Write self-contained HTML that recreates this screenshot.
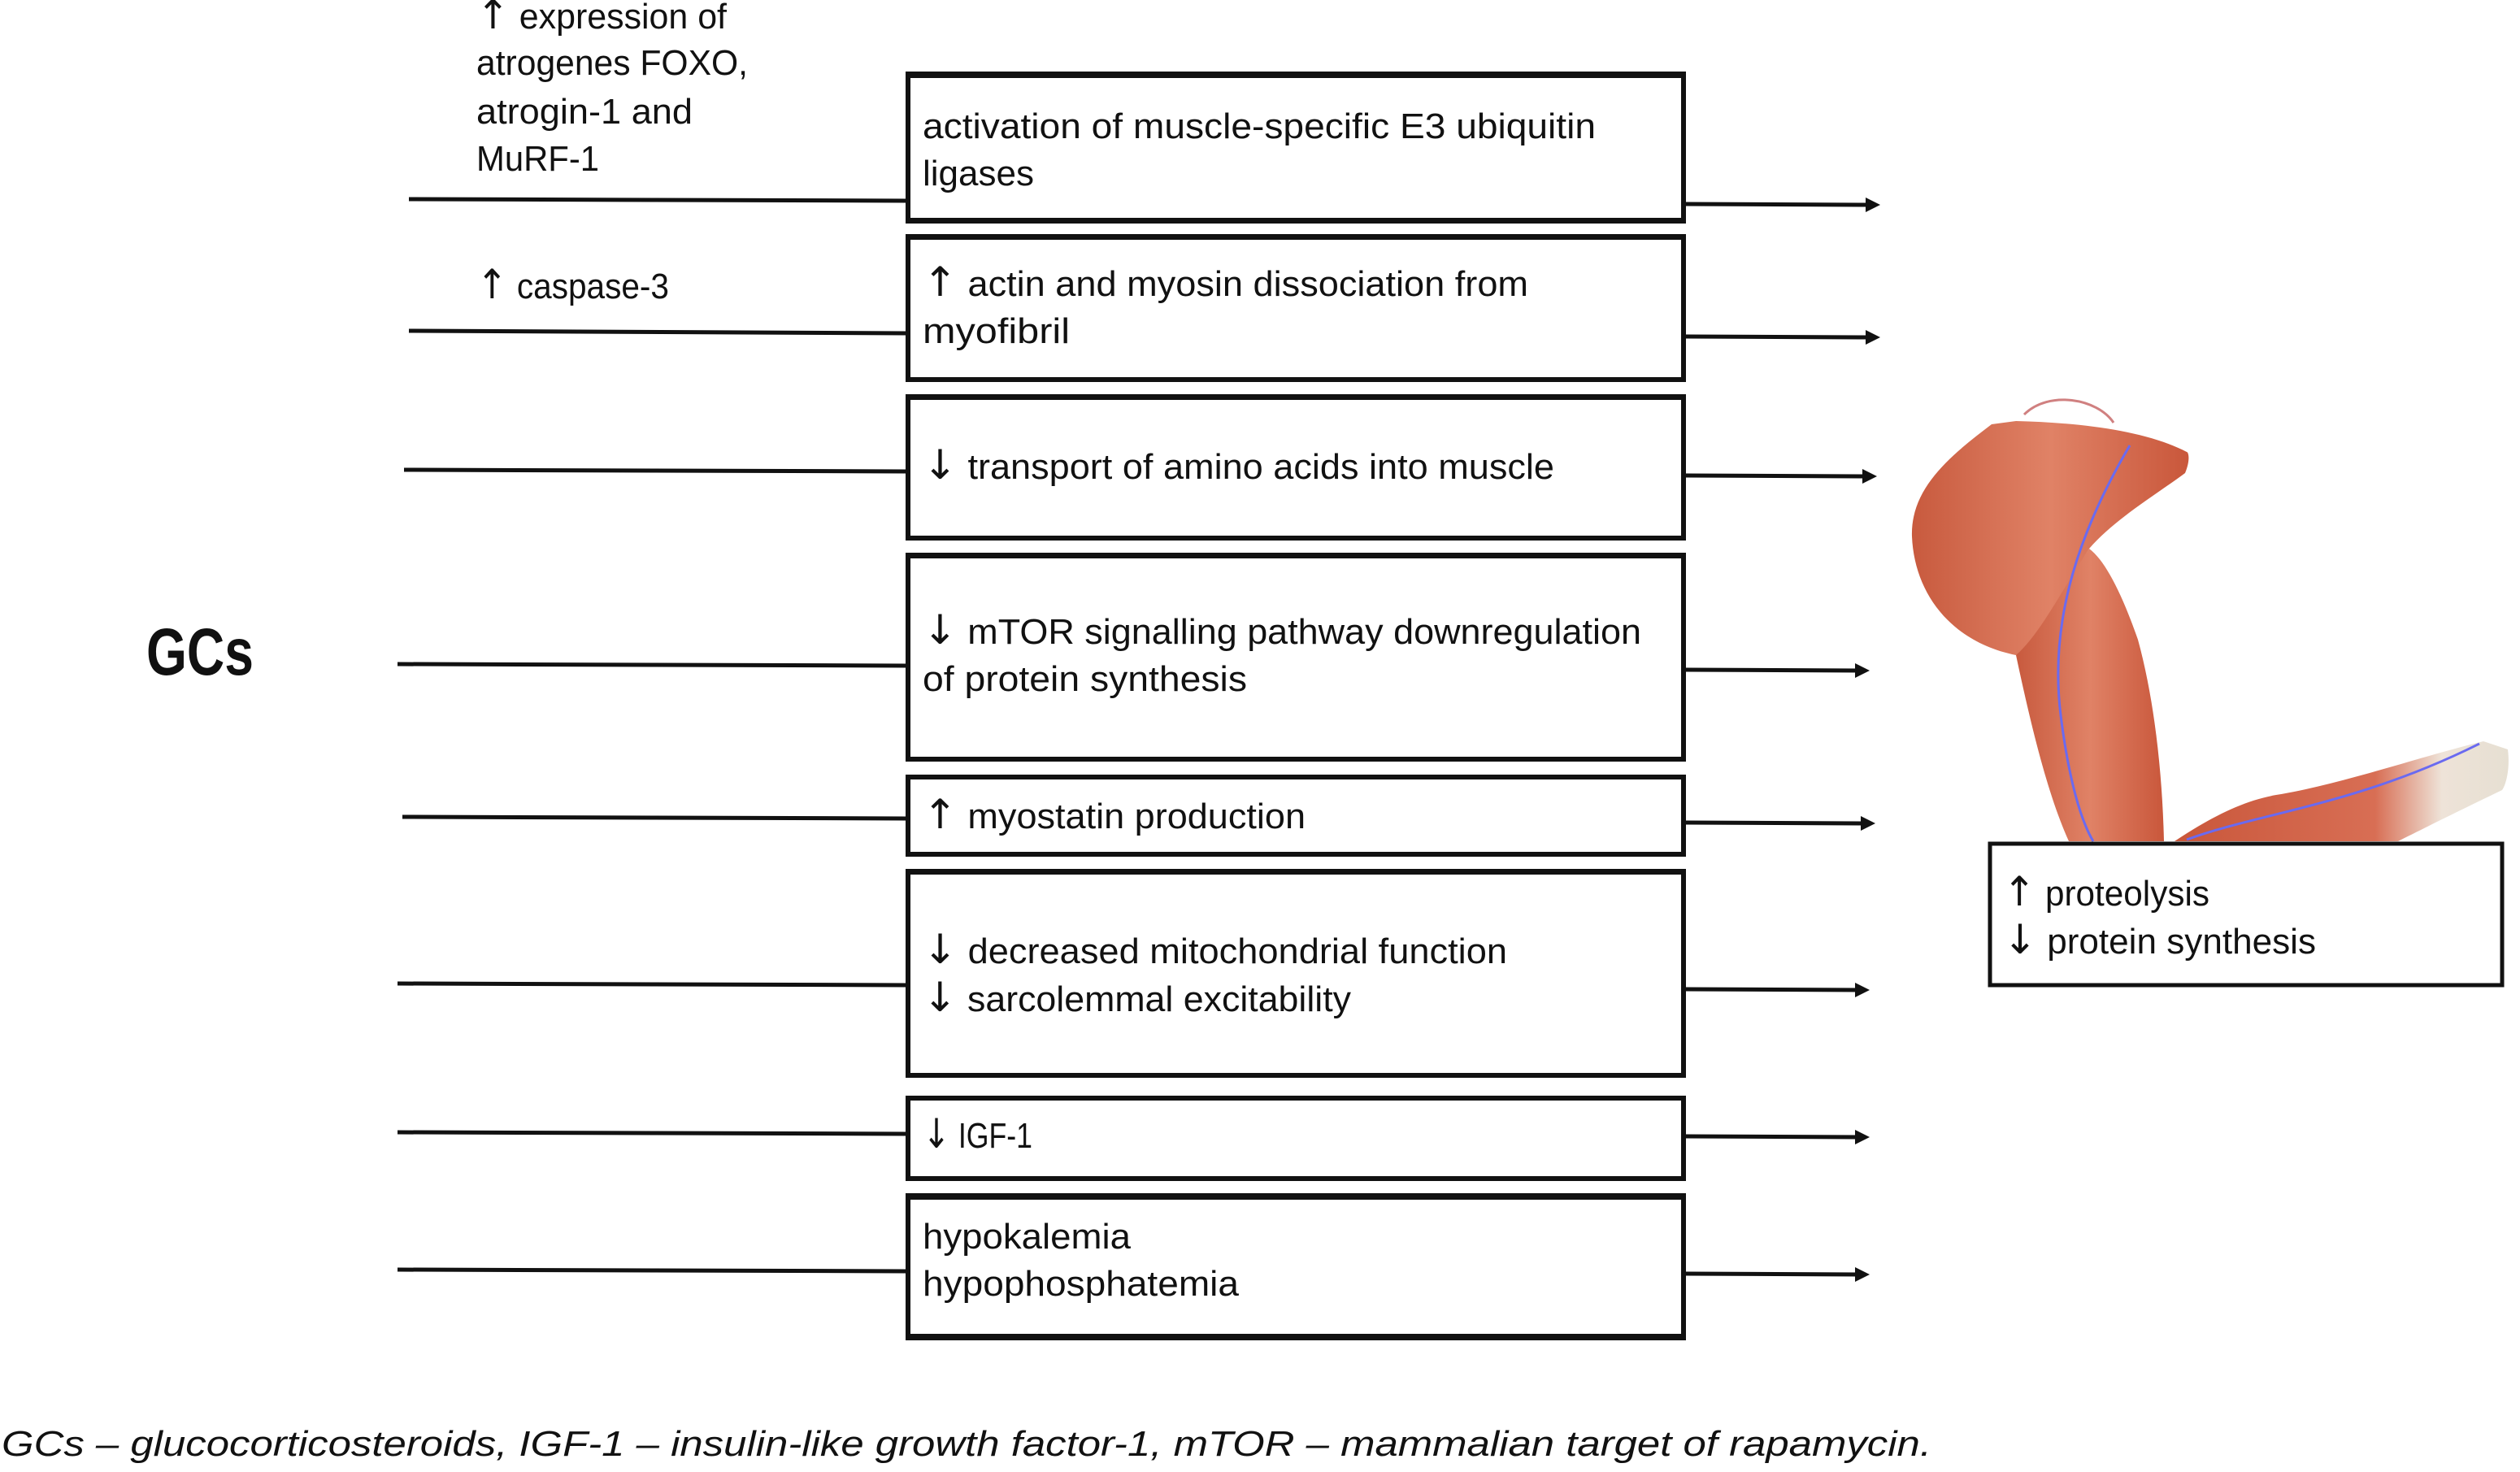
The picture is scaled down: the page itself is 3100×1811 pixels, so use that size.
<!DOCTYPE html>
<html><head><meta charset="utf-8"><style>
html,body{margin:0;padding:0;background:#fff;}
svg{display:block;}
text{font-family:"Liberation Sans",sans-serif;fill:#111;}
.ar{font-family:"DejaVu Sans",sans-serif;font-size:50px;}
</style></head><body>
<svg width="3100" height="1811" viewBox="0 0 3100 1811" xmlns="http://www.w3.org/2000/svg">
<defs>
<linearGradient id="mus" x1="0" y1="0" x2="1" y2="0">
<stop offset="0" stop-color="#c85a3e"/><stop offset="0.5" stop-color="#e08266"/><stop offset="1" stop-color="#c9573b"/>
</linearGradient>
<linearGradient id="fa" x1="0" y1="0" x2="1" y2="0">
<stop offset="0" stop-color="#c9573b"/><stop offset="0.6" stop-color="#d86e54"/><stop offset="0.8" stop-color="#eee3d8"/><stop offset="1" stop-color="#e6dfd2"/>
</linearGradient>
</defs>

<path d="M2480 806 C2500 900 2520 980 2545 1035 L2662 1035 C2660 950 2650 860 2630 787 C2610 730 2590 690 2570 675 Z" fill="url(#mus)"/>
<path d="M2450 522 C2400 560 2350 600 2352 660 C2355 730 2400 790 2480 806 C2510 780 2540 720 2570 675 C2600 640 2650 610 2688 582 C2695 565 2692 556 2690 556 C2640 530 2560 520 2480 518 Z" fill="url(#mus)"/>
<path d="M2675 1035 C2720 1005 2760 985 2800 978 C2880 965 2980 930 3055 912 L3085 922 C3088 945 3083 965 3078 972 C3020 1000 2980 1020 2950 1035 Z" fill="url(#fa)"/>
<path d="M2620 548 C2560 650 2520 760 2535 880 C2545 960 2560 1010 2575 1035" fill="none" stroke="#6a6af0" stroke-width="3"/>
<path d="M2690 1033 C2780 1000 2900 990 3050 915" fill="none" stroke="#6a6af0" stroke-width="3"/>
<path d="M2490 510 C2520 480 2580 490 2600 520" fill="none" stroke="#d08080" stroke-width="3"/>

<text x="586" y="35" font-size="44" textLength="308" lengthAdjust="spacingAndGlyphs"><tspan class="ar">↑</tspan> expression of</text>
<text x="586" y="92" font-size="44" textLength="334" lengthAdjust="spacingAndGlyphs">atrogenes FOXO,</text>
<text x="586" y="152" font-size="44" textLength="266" lengthAdjust="spacingAndGlyphs">atrogin-1 and</text>
<text x="586" y="210" font-size="44" textLength="151" lengthAdjust="spacingAndGlyphs">MuRF-1</text>
<text x="586" y="367" font-size="44" textLength="237" lengthAdjust="spacingAndGlyphs"><tspan class="ar">↑</tspan> caspase-3</text>
<text x="180" y="830" font-size="82" font-weight="bold" textLength="132" lengthAdjust="spacingAndGlyphs">GCs</text>

<g stroke="#111" stroke-width="5">
<line x1="503" y1="245" x2="1115" y2="247"/>
<line x1="503" y1="407" x2="1115" y2="410"/>
<line x1="497" y1="578" x2="1115" y2="580"/>
<line x1="489" y1="817" x2="1115" y2="819"/>
<line x1="495" y1="1005" x2="1115" y2="1007"/>
<line x1="489" y1="1210" x2="1115" y2="1212"/>
<line x1="489" y1="1393" x2="1115" y2="1395"/>
<line x1="489" y1="1562" x2="1115" y2="1564"/>
</g>

<g fill="#fff" stroke="#111">
<rect x="1117" y="93" width="954" height="178" stroke-width="6"/>
<rect x="1117" y="292" width="954" height="175" stroke-width="6"/>
<rect x="1117" y="489" width="954" height="173" stroke-width="6"/>
<rect x="1117" y="684" width="954" height="250" stroke-width="6"/>
<rect x="1117" y="956" width="954" height="95" stroke-width="6"/>
<rect x="1117" y="1073" width="954" height="250" stroke-width="6"/>
<rect x="1117" y="1351" width="954" height="99" stroke-width="6"/>
<rect x="1117" y="1472" width="954" height="173" stroke-width="6"/>
<rect x="2448" y="1038" width="630" height="174" stroke-width="5"/>
</g>
<g fill="#111">
<rect x="1114" y="88" width="960" height="8"/><rect x="1114" y="268" width="960" height="7"/>
<rect x="1114" y="288" width="960" height="7"/>
<rect x="1114" y="485" width="960" height="7"/>
<rect x="1114" y="680" width="960" height="7"/>
<rect x="1114" y="1069" width="960" height="7"/>
<rect x="1114" y="1468" width="960" height="8"/><rect x="1114" y="1641" width="960" height="8"/>
</g>

<g font-size="44">
<text x="1135" y="170" textLength="828" lengthAdjust="spacingAndGlyphs">activation of muscle-specific E3 ubiquitin</text>
<text x="1135" y="228" textLength="137" lengthAdjust="spacingAndGlyphs">ligases</text>
<text x="1135" y="364" textLength="745" lengthAdjust="spacingAndGlyphs"><tspan class="ar">↑</tspan> actin and myosin dissociation from</text>
<text x="1135" y="422" textLength="181" lengthAdjust="spacingAndGlyphs">myofibril</text>
<text x="1135" y="589" textLength="777" lengthAdjust="spacingAndGlyphs"><tspan class="ar">↓</tspan> transport of amino acids into muscle</text>
<text x="1135" y="792" textLength="884" lengthAdjust="spacingAndGlyphs"><tspan class="ar">↓</tspan> mTOR signalling pathway downregulation</text>
<text x="1135" y="850" textLength="399" lengthAdjust="spacingAndGlyphs">of protein synthesis</text>
<text x="1135" y="1019" textLength="471" lengthAdjust="spacingAndGlyphs"><tspan class="ar">↑</tspan> myostatin production</text>
<text x="1135" y="1185" textLength="719" lengthAdjust="spacingAndGlyphs"><tspan class="ar">↓</tspan> decreased mitochondrial function</text>
<text x="1135" y="1244" textLength="527" lengthAdjust="spacingAndGlyphs"><tspan class="ar">↓</tspan> sarcolemmal excitability</text>
<text x="1135" y="1412" textLength="135" lengthAdjust="spacingAndGlyphs"><tspan class="ar">↓</tspan> IGF-1</text>
<text x="1135" y="1536" textLength="256" lengthAdjust="spacingAndGlyphs">hypokalemia</text>
<text x="1135" y="1594" textLength="389" lengthAdjust="spacingAndGlyphs">hypophosphatemia</text>
<text x="2464" y="1114" textLength="254" lengthAdjust="spacingAndGlyphs"><tspan class="ar">↑</tspan> proteolysis</text>
<text x="2464" y="1173" textLength="385" lengthAdjust="spacingAndGlyphs"><tspan class="ar">↓</tspan> protein synthesis</text>
</g>

<g stroke="#111" stroke-width="5">
<line x1="2074" y1="251" x2="2300" y2="252"/>
<line x1="2074" y1="414" x2="2300" y2="415"/>
<line x1="2074" y1="585" x2="2296" y2="586"/>
<line x1="2074" y1="824" x2="2287" y2="825"/>
<line x1="2074" y1="1012" x2="2294" y2="1013"/>
<line x1="2074" y1="1217" x2="2287" y2="1218"/>
<line x1="2074" y1="1398" x2="2287" y2="1399"/>
<line x1="2074" y1="1567" x2="2287" y2="1568"/>
</g>
<g fill="#111">
<polygon points="2295,243 2313,252 2295,261"/>
<polygon points="2295,406 2313,415 2295,424"/>
<polygon points="2291,577 2309,586 2291,595"/>
<polygon points="2282,816 2300,825 2282,834"/>
<polygon points="2289,1004 2307,1013 2289,1022"/>
<polygon points="2282,1209 2300,1218 2282,1227"/>
<polygon points="2282,1390 2300,1399 2282,1408"/>
<polygon points="2282,1559 2300,1568 2282,1577"/>
</g>

<text x="2" y="1791" font-size="44" font-style="italic" textLength="2374" lengthAdjust="spacingAndGlyphs">GCs – glucocorticosteroids, IGF-1 – insulin-like growth factor-1, mTOR – mammalian target of rapamycin.</text>
</svg>
</body></html>
